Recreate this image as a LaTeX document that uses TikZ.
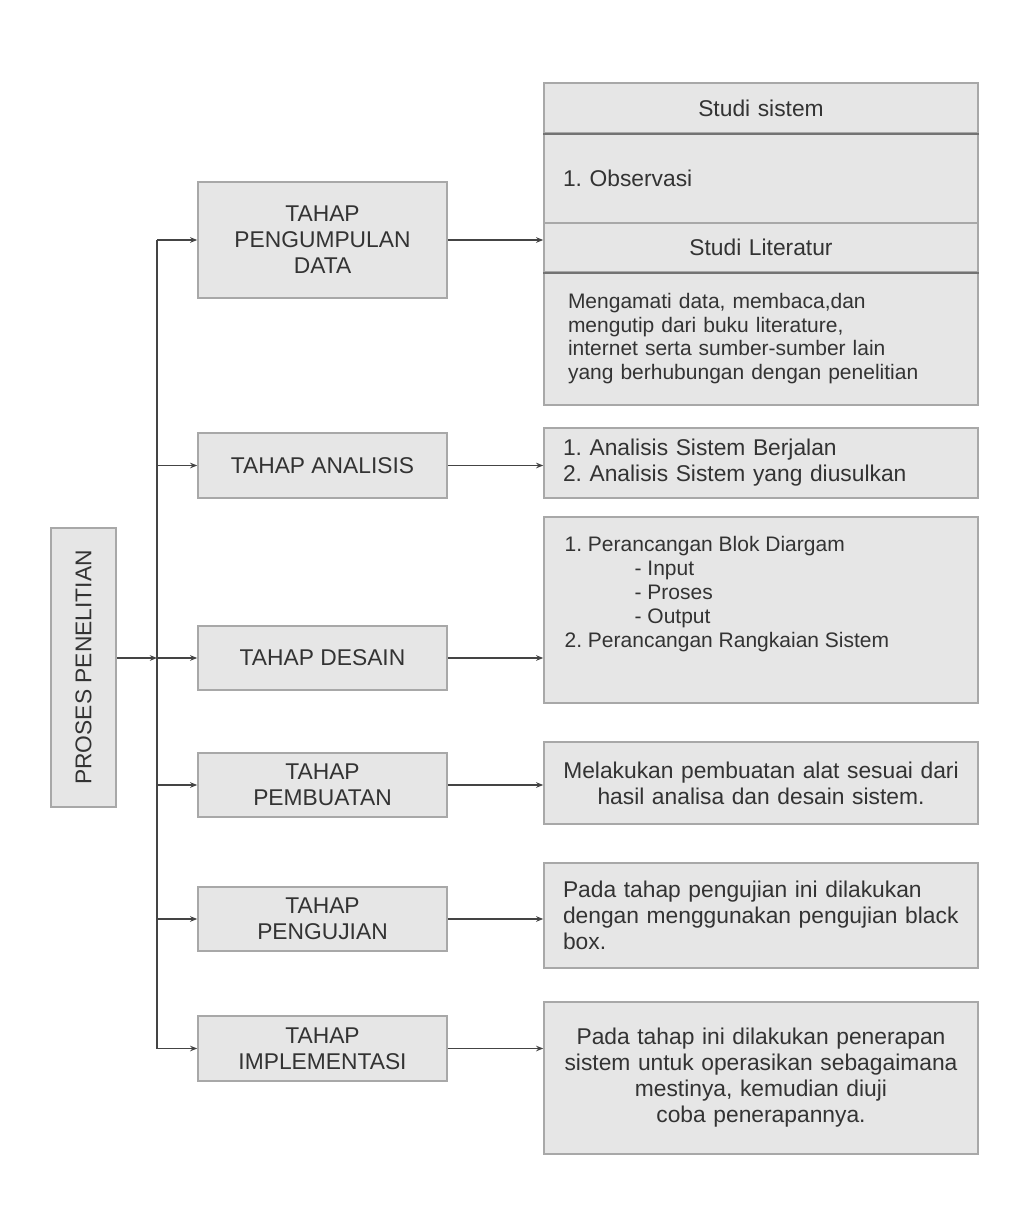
\documentclass[tikz,border=0pt]{standalone}
\usepackage{fontspec}
\setmainfont{Liberation Sans}
\usetikzlibrary{arrows.meta}
\definecolor{boxFill}{HTML}{E6E6E6}
\definecolor{boxLine}{HTML}{A8A8A8}
\definecolor{inkText}{HTML}{333333}
\definecolor{inkLine}{HTML}{444444}
\newcommand{\bigtext}{\fontsize{11.4}{13}\selectfont}
\newcommand{\smalltext}{\fontsize{10.5}{11.9}\selectfont}
\frenchspacing

\begin{document}
\begin{tikzpicture}
[x=0.5pt,y=-0.5pt,
  lineDecorate/.style={-,draw=inkLine,line width=0.65pt},%
  arrowDecorate/.style={->,>={Stealth[length=3.6pt,width=2.8pt]},draw=inkLine,line width=0.65pt},%
  boxDecorate/.style={shape=rectangle,draw=boxLine,fill=boxFill,line width=0.75pt,text=inkText,inner sep=0pt},%
  stageDecorate/.style={boxDecorate,minimum width=124.5pt,align=center,font=\bigtext},%
  infoDecorate/.style={boxDecorate,text width=198pt,inner xsep=9.5pt,align=left,font=\bigtext},%
  dividerDecorate/.style={-,draw=black!55,line width=0.75pt}]
\useasboundingbox (0,0) rectangle (1017,1216);
%% left box
\node (proses) at (83.5,667.5) [boxDecorate,rotate=90,minimum width=139.5pt,minimum height=32.5pt,font=\bigtext] {PROSES PENELITIAN};
%% stages
\foreach \nodename/\y/\h/\txt in {kumpul/240/58/{TAHAP\\PENGUMPULAN\\DATA},
  analisis/465.5/32.5/{TAHAP ANALISIS}, desain/658/32/{TAHAP DESAIN},
  buat/785/32/{TAHAP\\PEMBUATAN}, uji/919/32/{TAHAP\\PENGUJIAN},
  implementasi/1048.5/32.5/{TAHAP\\IMPLEMENTASI}}
{
  \node (\nodename) at (322.5,\y) [stageDecorate,minimum height=\h pt] {\txt};
}
%% details
\node (studisistem) at (761,108) [infoDecorate,minimum height=25pt,align=center] {Studi sistem};
\node (observasi) at (761,178) [infoDecorate,minimum height=45pt] {1. Observasi};
\node (studilit) at (761,247.5) [infoDecorate,minimum height=24.5pt,align=center] {Studi Literatur};
\node (litdesc) at (761,338.5) [infoDecorate,minimum height=66.5pt,font=\smalltext,inner xsep=12pt,text width=193pt]
  {Mengamati data, membaca,dan\\mengutip dari buku literature,\\internet serta sumber-sumber lain\\yang berhubungan dengan penelitian};
\draw[dividerDecorate] (studisistem.south west) -- (studisistem.south east);
\draw[dividerDecorate] (studilit.south west) -- (studilit.south east);
\node (ranalisis) at (761,463) [infoDecorate,minimum height=35pt]
  {1. Analisis Sistem Berjalan\\2. Analisis Sistem yang diusulkan};
\node (rdesain) at (761,610) [boxDecorate,minimum width=217pt,minimum height=93pt] {};
\node (desaintxt) at ([shift={(21,20)}]rdesain.north west) [anchor=north west,inner sep=0pt,align=left,text=inkText,font=\smalltext]
  {1. Perancangan Blok Diargam\\
   \hspace*{35pt}- Input\\
   \hspace*{35pt}- Proses\\
   \hspace*{35pt}- Output\\
   2. Perancangan Rangkaian Sistem};
\node (rbuat) at (761,783) [infoDecorate,minimum height=41pt,align=center]
  {Melakukan pembuatan alat sesuai dari\\hasil analisa dan desain sistem.};
\node (ruji) at (761,915.5) [infoDecorate,minimum height=52.5pt]
  {Pada tahap pengujian ini dilakukan\\dengan menggunakan pengujian black\\box.};
\node (rimplementasi) at (761,1078) [infoDecorate,minimum height=76pt,align=center]
  {Pada tahap ini dilakukan penerapan\\sistem untuk operasikan sebagaimana\\mestinya, kemudian diuji\\coba penerapannya.};
%% connectors
\coordinate (spine) at (157,0);
\draw[lineDecorate] (spine |- kumpul) -- (spine |- implementasi);
\draw[arrowDecorate] (proses.south |- desain) -- (spine |- desain);
\foreach \nodename/\target in {kumpul/studilit, analisis/ranalisis, desain/rdesain,
  buat/rbuat, uji/ruji, implementasi/rimplementasi}
{
  \draw[arrowDecorate] (spine |- \nodename) -- (\nodename.west);
  \draw[arrowDecorate] (\nodename.east) -- (\nodename.east -| \target.west);
}
\end{tikzpicture}
\end{document}
